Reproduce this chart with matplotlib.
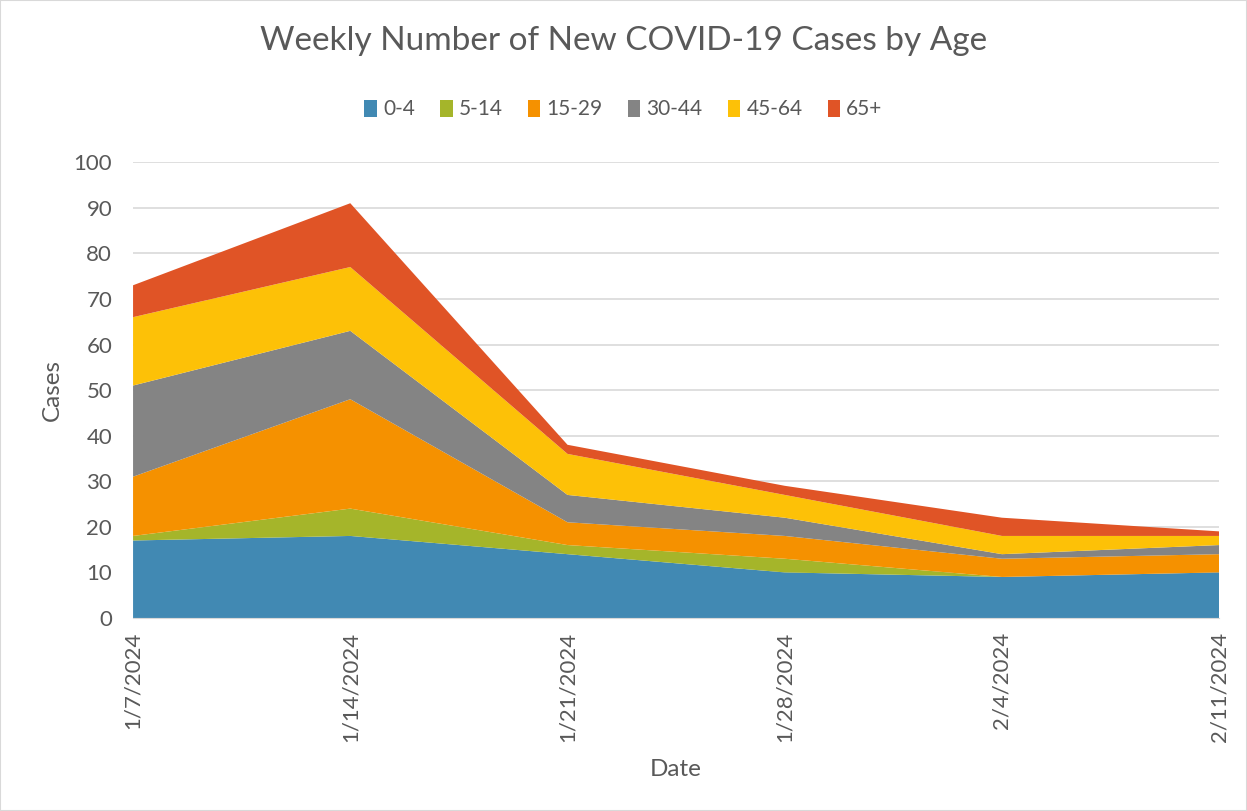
import numpy as np
import matplotlib.pyplot as plt

fechas = ["1/7/2024", "1/14/2024", "1/21/2024", "1/28/2024", "2/4/2024", "2/11/2024"]
grupos = ["0-4", "5-14", "15-29", "30-44", "45-64", "65+"]

casos_0_4 = [17, 18, 14, 10, 9, 10]
casos_5_14 = [1, 6, 2, 3, 0, 0]
casos_15_29 = [13, 24, 5, 5, 4, 4]
casos_30_44 = [20, 15, 6, 4, 1, 2]
casos_45_64 = [15, 14, 9, 5, 4, 2]
casos_65 = [7, 14, 2, 2, 4, 1]

colores = ["#4189B3", "#A5B52A", "#F59100", "#848484", "#FDC107", "#E05426"]
gris = "#595959"

plt.rcParams["font.family"] = ["Lato", "DejaVu Sans"]

fig = plt.figure(figsize=(12.47, 8.11), dpi=100)
ax = fig.add_axes([0.1067, 0.238, 0.8710, 0.562])

x = np.arange(len(fechas))
ax.stackplot(x, casos_0_4, casos_5_14, casos_15_29, casos_30_44, casos_45_64, casos_65,
             colors=colores, labels=grupos, linewidth=0)

ax.set_xlim(0, len(fechas) - 1)
ax.set_ylim(0, 100)
ax.set_yticks(range(0, 101, 10))
ax.set_xticks(x)
ax.set_xticklabels(fechas, rotation=90)
ax.tick_params(axis="both", length=0, labelsize=16, colors=gris)
ax.tick_params(axis="x", pad=10)
ax.tick_params(axis="y", pad=15)
ax.grid(axis="y", color="#D9D9D9", linewidth=1.2)
ax.set_axisbelow(True)
for s in ["top", "right", "left"]:
    ax.spines[s].set_visible(False)
ax.spines["bottom"].set_color("#D9D9D9")

ax.set_xlabel("Date", fontsize=17.5, color=gris, labelpad=12)
ax.set_ylabel("Cases", fontsize=17.5, color=gris, labelpad=8)

fig.suptitle("Weekly Number of New COVID-19 Cases by Age", fontsize=24, color=gris, y=0.968)
fig.legend(loc="center", bbox_to_anchor=(0.5, 0.865), ncol=6, frameon=False,
           fontsize=15, labelcolor=gris, handlelength=0.6, handleheight=0.9,
           handletextpad=0.3, columnspacing=1.2)

borde = plt.Rectangle((0, 0), 1, 1, transform=fig.transFigure, fill=False,
                      edgecolor="#D9D9D9", linewidth=1.5)
fig.patches.append(borde)

fig.savefig("out.png", dpi=100)
